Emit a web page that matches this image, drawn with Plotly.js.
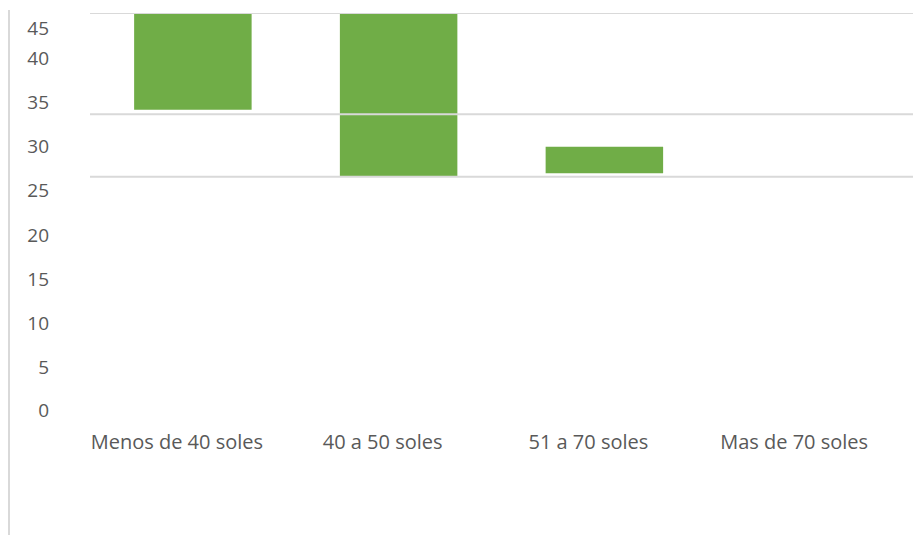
<!DOCTYPE html>
<html><head><meta charset="utf-8">
<script src="https://cdn.plot.ly/plotly-3.0.1.min.js"></script>
<style>html,body{margin:0;padding:0;background:#fff;}#chart{width:913px;height:535px;}
#vline{position:absolute;left:8px;top:10px;width:2px;height:525px;background:#d9d9d9;}</style>
</head><body><div id="vline"></div><div id="chart"></div>
<script>
const categories = ["Menos de 40 soles", "40 a 50 soles", "51 a 70 soles", "Mas de 70 soles"];
const barBottom = [34.1, 26.5, 26.9, null];
const barTop = [45.1, 45.1, 29.9, null];
const gridValues = [26.5, 33.6, 45.1];
const tickLabels = ["0", "5", "10", "15", "20", "25", "30", "35", "40", "45"];
const tickPositions = [0, 4.9, 9.9, 14.8, 19.8, 25, 29.9, 34.9, 39.9, 43.4];

const heights = barTop.map((t, i) => (t == null ? null : t - barBottom[i]));
const font = "'Open Sans', sans-serif";
const data = [
  {type: "bar", x: categories, y: heights, base: barBottom, marker: {color: "#70ad47"}, width: 0.571, hoverinfo: "none"},
  {type: "scatter", x: [categories[0]], y: [0], yaxis: "y2", mode: "markers", marker: {opacity: 0}, hoverinfo: "none", showlegend: false}
];
const shapes = gridValues.map(v => ({type: "line", xref: "paper", x0: 0, x1: 1, yref: "y", y0: v, y1: v, layer: "above", line: {color: "#d9d9d9", width: 2}}));
const layout = {
  width: 913, height: 535,
  margin: {l: 90, r: 0, t: 13, b: 125},
  paper_bgcolor: "rgba(0,0,0,0)", plot_bgcolor: "rgba(0,0,0,0)",
  showlegend: false,
  shapes: shapes,
  xaxis: {type: "category", showgrid: false, zeroline: false, showline: false, ticks: "",
    tickfont: {family: font, size: 20, color: "#595959"}, ticklabelshift: -16, ticklabelstandoff: 18},
  yaxis: {range: [0, 45.1], showticklabels: false, showgrid: false, zeroline: false, showline: false, ticks: ""},
  yaxis2: {overlaying: "y", range: [0, 45.1], tickvals: tickPositions, ticktext: tickLabels, showgrid: false, zeroline: false, showline: false, ticks: "",
    tickfont: {family: font, size: 19, color: "#595959"}, ticklabelstandoff: 40, side: "left"}
};
Plotly.newPlot("chart", data, layout, {staticPlot: true});
</script></body></html>
